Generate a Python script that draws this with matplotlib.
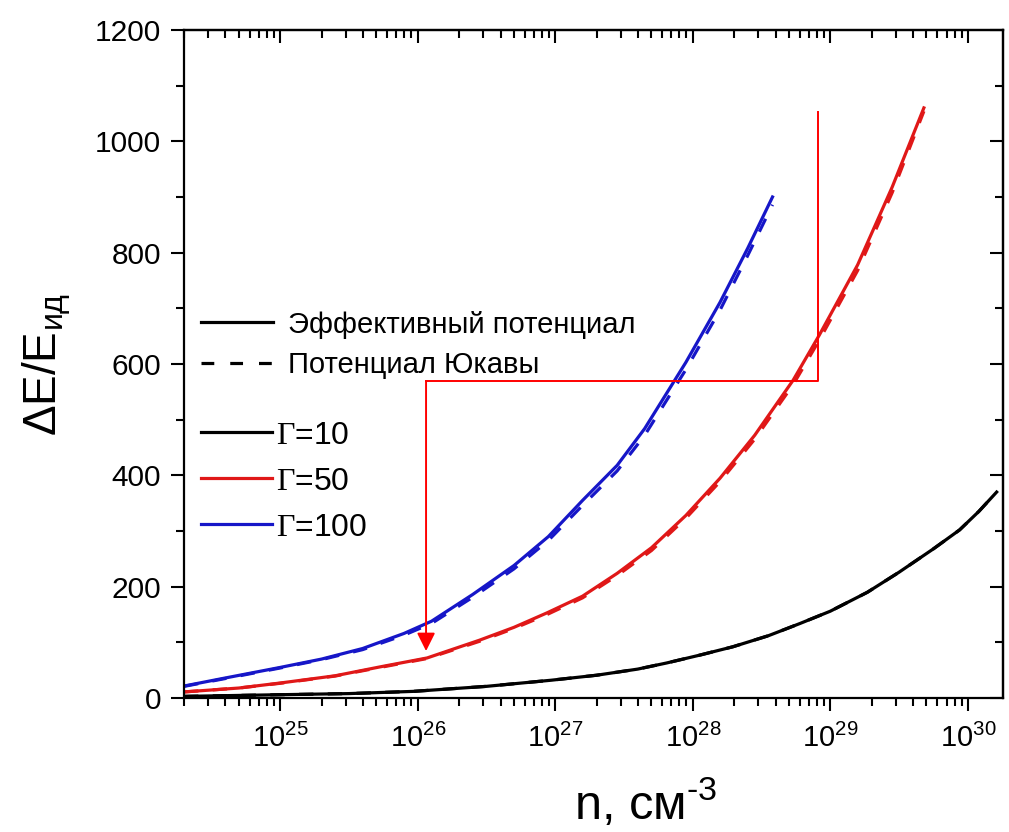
import matplotlib
matplotlib.use("Agg")
import matplotlib.pyplot as plt
from matplotlib.ticker import MultipleLocator, LogLocator, NullFormatter
from matplotlib.lines import Line2D

plt.rcParams['font.family'] = ['Liberation Sans', 'DejaVu Sans']
plt.rcParams['mathtext.fontset'] = 'custom'
plt.rcParams['mathtext.rm'] = 'Liberation Sans'
plt.rcParams['mathtext.it'] = 'Liberation Sans'
plt.rcParams['mathtext.tt'] = 'Liberation Serif'

# ---------------- data ----------------
n_g100 = [2.0e24, 3.98e24, 1.0e25, 2.0e25, 3.98e25, 7.94e25, 1.26e26,
          2.51e26, 5.01e26, 8.91e26, 1.58e27, 2.82e27, 4.47e27, 8.91e27,
          1.58e28, 2.51e28, 3.80e28]
eff_g100 = [21.6, 36, 55, 70, 89, 116, 138, 186, 238, 290, 355, 418, 484,
            603, 711, 808, 900]
yuk_g100 = [21, 35, 54, 69, 87, 113, 134, 181, 232, 283, 346, 408, 472,
            590, 697, 795, 886]

n_g50 = [2.0e24, 5.01e24, 1.0e25, 2.51e25, 5.33e25, 1.17e26, 2.82e26,
         5.01e26, 8.71e26, 1.58e27, 2.82e27, 5.01e27, 8.91e27, 1.58e28,
         2.82e28, 5.37e28, 8.32e28, 1.58e29, 2.82e29, 4.79e29]
eff_g50 = [11, 18, 27, 40, 56, 72, 104, 127, 153, 183, 224, 270, 328, 395,
           472, 571, 652, 778, 918, 1060]
yuk_g50 = [11, 18, 26.5, 39.5, 55, 71, 102, 125, 150, 180, 220, 265, 323,
           389, 465, 563, 643, 768, 908, 1054]

n_g10 = [2.0e24, 1.0e25, 3.16e25, 9.33e25, 3.16e26, 9.33e26, 2.0e27,
         3.98e27, 6.46e27, 1.12e28, 1.95e28, 3.55e28, 6.03e28, 1.0e29,
         1.86e29, 3.16e29, 5.62e29, 8.71e29, 1.2e30, 1.62e30]
eff_g10 = [3, 6, 8, 12, 21, 32, 41, 52, 63, 77, 92, 112, 134, 156, 190,
           226, 268, 302, 335, 370]
yuk_g10 = [3, 6, 8, 12, 21, 32, 41, 52, 63, 77, 92, 112, 134, 156, 190,
           226, 268, 302, 335, 370]

# annotation path (red guide lines)
guide_x = [8.09e28, 8.09e28, 1.15e26]
guide_y = [1052.7, 569.5, 569.5]
arrow_end = (1.15e26, 84.4)

x_limits = (2.0e24, 1.8e30)
y_limits = (0, 1200)

legend_style_labels = ['Эффективный потенциал', 'Потенциал Юкавы']
legend_gamma_labels = [r'$\mathtt{\Gamma}$=10', r'$\mathtt{\Gamma}$=50', r'$\mathtt{\Gamma}$=100']

c_black = '#000000'
c_red = '#e01818'
c_blue = '#1616c8'

# ---------------- figure ----------------
fig = plt.figure(figsize=(10.09, 8.32), dpi=100)
ax = fig.add_axes([0.1824, 0.161, 0.8116, 0.803])

lw = 2.3
dash = (0, (4.5, 4.5))
ax.plot(n_g10, eff_g10, color=c_black, lw=lw)
ax.plot(n_g10, yuk_g10, color=c_black, lw=lw, ls=dash)
ax.plot(n_g50, eff_g50, color=c_red, lw=lw)
ax.plot(n_g50, yuk_g50, color=c_red, lw=lw, ls=dash)
ax.plot(n_g100, eff_g100, color=c_blue, lw=lw)
ax.plot(n_g100, yuk_g100, color=c_blue, lw=lw, ls=dash)

# red guide
ax.plot(guide_x, guide_y, color='#ff0000', lw=1.4)
ax.annotate('', xy=arrow_end, xytext=(guide_x[-1], guide_y[-1]),
            arrowprops=dict(arrowstyle='-|>,head_length=1.1,head_width=0.55',
                            color='#ff0000', lw=1.4, shrinkA=0, shrinkB=0))

ax.set_xscale('log')
ax.set_xlim(*x_limits)
ax.set_ylim(*y_limits)
ax.yaxis.set_major_locator(MultipleLocator(200))
ax.yaxis.set_minor_locator(MultipleLocator(100))
ax.xaxis.set_major_locator(LogLocator(base=10, numticks=20))
ax.xaxis.set_minor_locator(LogLocator(base=10, subs=range(2, 10), numticks=100))
ax.xaxis.set_minor_formatter(NullFormatter())

for s in ax.spines.values():
    s.set_linewidth(1.6)

ax.tick_params(axis='both', which='major', direction='out', length=9.5, width=1.5)
ax.tick_params(axis='both', which='minor', direction='out', length=5.5, width=1.5)
ax.tick_params(axis='y', which='major', labelsize=21.5, pad=7)
ax.tick_params(axis='x', which='major', labelsize=21, pad=9)

# top / right inward ticks
sx = ax.secondary_xaxis('top')
sx.xaxis.set_major_locator(LogLocator(base=10, numticks=20))
sx.xaxis.set_minor_locator(LogLocator(base=10, subs=range(2, 10), numticks=100))
sx.tick_params(which='major', direction='in', length=9.5, width=1.5, labeltop=False)
sx.tick_params(which='minor', direction='in', length=5.5, width=1.5, labeltop=False)
sx.xaxis.set_minor_formatter(NullFormatter())
sx.spines['top'].set_linewidth(1.6)

sy = ax.secondary_yaxis('right')
sy.yaxis.set_major_locator(MultipleLocator(200))
sy.yaxis.set_minor_locator(MultipleLocator(100))
sy.tick_params(which='major', direction='in', length=9.5, width=1.5, labelright=False)
sy.tick_params(which='minor', direction='in', length=5.5, width=1.5, labelright=False)
sy.spines['right'].set_linewidth(1.6)

ax.set_xlabel(r'n, см$^{\text{-3}}$', fontsize=35)
ax.xaxis.set_label_coords(0.564, -0.118)
ax.set_ylabel(r'ΔE/E$_{\mathregular{ид}}$', fontsize=33)
ax.yaxis.set_label_coords(-0.135, 0.5)

# legends
h1 = [Line2D([], [], color='black', lw=2.3),
      Line2D([], [], color='black', lw=2.3, ls=(0, (4, 5)))]
leg1 = ax.legend(h1, legend_style_labels, loc='center left',
                 bbox_to_anchor=(0.021, 0.529), frameon=False, fontsize=21,
                 handlelength=2.45, handletextpad=0.52, borderpad=0,
                 borderaxespad=0, labelspacing=0.42)
ax.add_artist(leg1)
h2 = [Line2D([], [], color=c_black, lw=2.3),
      Line2D([], [], color=c_red, lw=2.3),
      Line2D([], [], color=c_blue, lw=2.3)]
leg2 = ax.legend(h2, legend_gamma_labels, loc='center left',
                 bbox_to_anchor=(0.021, 0.324), frameon=False, fontsize=23,
                 handlelength=2.2, handletextpad=0.15, borderpad=0,
                 borderaxespad=0, labelspacing=0.5)

fig.savefig('out.png', dpi=100)
